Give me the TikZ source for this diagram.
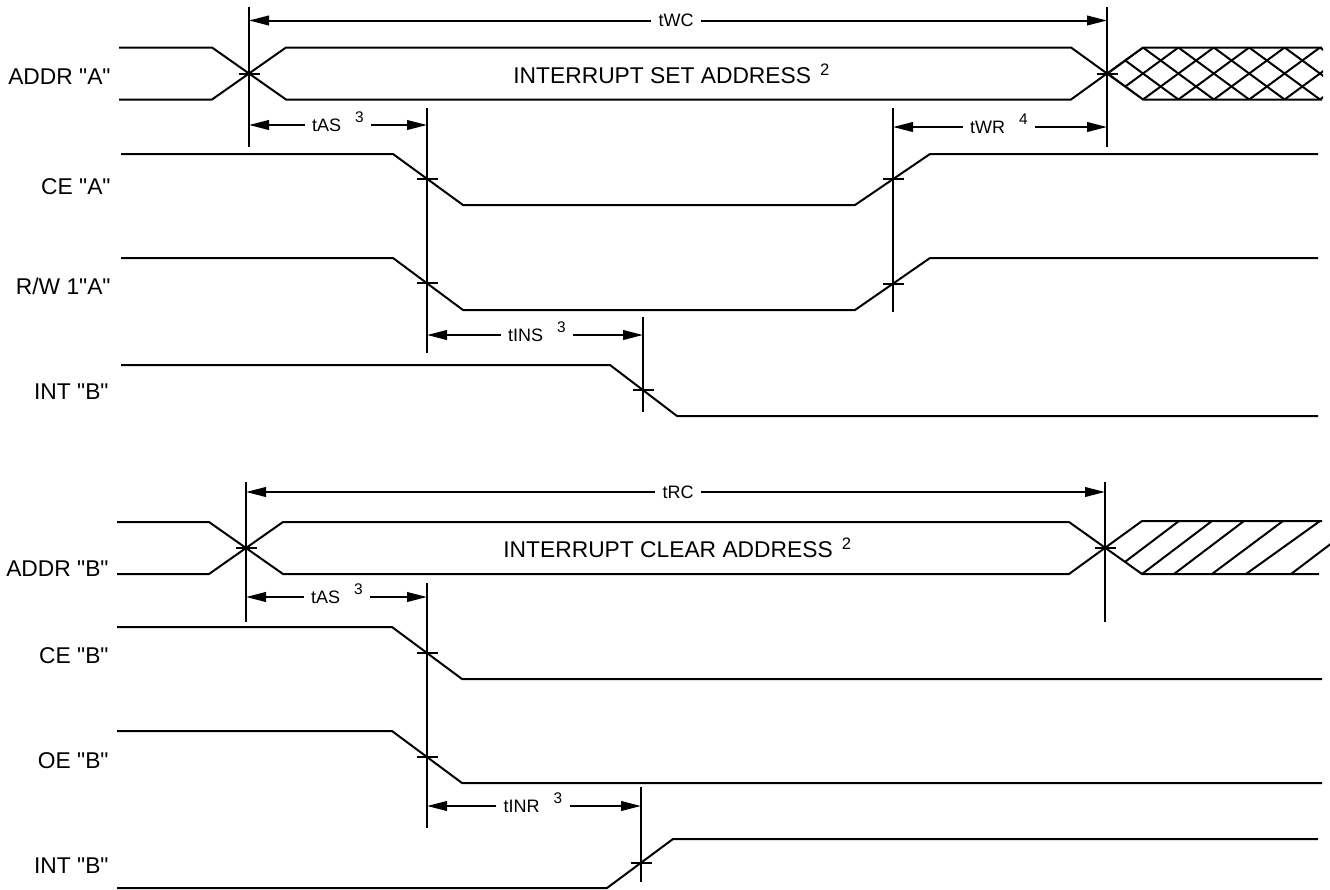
\documentclass[tikz,border=0pt]{standalone}
\usepackage{fontspec}
% a family without the TeX quote mapping, so " stays a straight quote
\newfontfamily\arialfont{Liberation Sans}
\usetikzlibrary{arrows.meta}

% raised footnote digit after a timing parameter
\newcommand\tnote[1]{\hspace{7pt}\raisebox{4.5pt}[0pt][0pt]{\fontsize{7.7}{9}\selectfont #1}}
% raised footnote digit after a bus value
\newcommand\bnote[1]{\hspace{4.5pt}\raisebox{4pt}[0pt][0pt]{\fontsize{8.3}{10}\selectfont #1}}

\begin{document}
\begin{tikzpicture}[x=0.5pt,y=-0.5pt, font=\arialfont,
  sig/.style={line width=1pt, line join=miter},
  guide/.style={line width=1pt},
  tickmark/.style={line width=1pt},
  dim/.style={line width=1pt, -{Triangle[length=10pt,width=4.8pt]}},
  lbl/.style={anchor=east, inner sep=0pt, font=\arialfont\fontsize{11.4}{13}\selectfont},
  buslbl/.style={anchor=west, inner sep=0pt, font=\arialfont\fontsize{11.4}{13}\selectfont},
  tlbl/.style={inner xsep=3.5pt, inner ysep=0pt, font=\arialfont\fontsize{9}{11}\selectfont}]

\useasboundingbox (0,0) rectangle (1330,890);

% ================= interrupt set (port A writes) =================
% signal names
\node[lbl] (addrA) at (111,77)  {ADDR "A"};
\node[lbl] (ceA)   at (111,187) {CE "A"};
\node[lbl] (rwA)   at (111,286) {R/W 1"A"};
\node[lbl] (intB1) at (109,392) {INT "B"};

% reference lines
\coordinate (gA1) at (249,7);
\coordinate (gA2) at (1107,7);
\coordinate (gA3) at (427,108);
\coordinate (gA4) at (893,108);
\coordinate (gA5) at (643,317);
\draw[guide] (gA1) -- ++(0,140);
\draw[guide] (gA2) -- ++(0,140);
\draw[guide] (gA3) -- (427,353);
\draw[guide] (gA4) -- (893,312);
\draw[guide] (gA5) -- (643,412);

% address bus
\draw[sig] (119,47.5) -- (212,47.5) -- (286,99.5) -- (1071,99.5) -- (1143,47.5) -- (1322,47.5);
\draw[sig] (119,99.5) -- (212,99.5) -- (286,47.5) -- (1071,47.5) -- (1143,99.5) -- (1322,99.5);
\node[buslbl] (setaddr) at (513,75.5) {INTERRUPT SET ADDRESS\bnote{2}};
% don't-care region after the address
\begin{scope}
  \clip (1107,73.5) -- (1143,47.5) -- (1323,47.5) -- (1323,99.5) -- (1143,99.5) -- cycle;
  \foreach \k in {-3,...,7} {
    \draw[sig] ({1072.2+35.4*\k},99.5) -- ++(70.8,-52);
    \draw[sig] ({1143+35.4*\k},47.5) -- ++(70.8,52);
  }
\end{scope}

% control strobes
\draw[sig] (121,154) -- (393,154) -- (463,205) -- (855,205) -- (930,154) -- (1318,154);
\draw[sig] (121,258) -- (393,258) -- (463,310) -- (855,310) -- (930,258) -- (1318,258);
\draw[sig] (121,365) -- (610,365) -- (677,416) -- (1318,416);

% crossing marks
\coordinate (xA1) at (249,73.5);
\coordinate (xA2) at (1107,73.5);
\coordinate (xA3) at (427,179);
\coordinate (xA4) at (893,179);
\coordinate (xA5) at (427,283);
\coordinate (xA6) at (893,284);
\coordinate (xA7) at (643,390);
\foreach \p in {xA1,xA2,xA3,xA4,xA5,xA6,xA7}
  \draw[tickmark] (\p) +(-10.5,0) -- +(10.5,0);

% timing parameters
\node[tlbl] (twc) at (676,20.5) {tWC};
\draw[dim] (twc.west) -- (twc.west -| gA1);
\draw[dim] (twc.east) -- (twc.east -| gA2);
\node[tlbl] (tas1) at (338,125) {tAS\tnote{3}};
\draw[dim] (tas1.west) -- (tas1.west -| gA1);
\draw[dim] (tas1.east) -- (tas1.east -| gA3);
\node[tlbl] (twr) at (999,127) {tWR\tnote{4}};
\draw[dim] (twr.west) -- (twr.west -| gA4);
\draw[dim] (twr.east) -- (twr.east -| gA2);
\node[tlbl] (tins) at (537,335) {tINS\tnote{3}};
\draw[dim] (tins.west) -- (tins.west -| gA3);
\draw[dim] (tins.east) -- (tins.east -| gA5);

% ================= interrupt clear (port B reads) =================
\node[lbl] (addrB) at (109,569) {ADDR "B"};
\node[lbl] (ceB)   at (109,656) {CE "B"};
\node[lbl] (oeB)   at (109,761) {OE "B"};
\node[lbl] (intB2) at (109,866) {INT "B"};

\coordinate (gB1) at (246,482);
\coordinate (gB2) at (1105,482);
\coordinate (gB3) at (427,583);
\coordinate (gB4) at (641,787);
\draw[guide] (gB1) -- (246,622);
\draw[guide] (gB2) -- (1105,622);
\draw[guide] (gB3) -- (427,828);
\draw[guide] (gB4) -- (641,882);

\draw[sig] (117,522) -- (209,522) -- (283,574) -- (1069,574) -- (1142,521) -- (1322,521);
\draw[sig] (117,574) -- (209,574) -- (283,522) -- (1069,522) -- (1142,574) -- (1319,574);
\node[buslbl] (clraddr) at (503,550) {INTERRUPT CLEAR ADDRESS\bnote{2}};
% don't-care region after the address
\begin{scope}
  \clip (1105.5,547.5) -- (1142,521) -- (1335,521) -- (1335,574) -- (1142,574) -- cycle;
  \foreach \b/\t in {1109/1179, 1142/1212, 1174/1244, 1212/1283, 1246/1320, 1291/1361}
    \draw[sig] (\b,574) -- (\t,521);
\end{scope}

\draw[sig] (117,627) -- (392,627) -- (462,679) -- (1322,679);
\draw[sig] (117,731) -- (392,731) -- (462,783) -- (1322,783);
\draw[sig] (117,888) -- (607,888) -- (673,839) -- (1318,839);

\coordinate (xB1) at (246,547.5);
\coordinate (xB2) at (1105.5,547.5);
\coordinate (xB3) at (427,653);
\coordinate (xB4) at (427,757);
\coordinate (xB5) at (641,863);
\foreach \p in {xB1,xB2,xB3,xB4,xB5}
  \draw[tickmark] (\p) +(-10.5,0) -- +(10.5,0);

\node[tlbl] (trc) at (678,492) {tRC};
\draw[dim] (trc.west) -- (trc.west -| gB1);
\draw[dim] (trc.east) -- (trc.east -| gB2);
\node[tlbl] (tas2) at (337,597) {tAS\tnote{3}};
\draw[dim] (tas2.west) -- (tas2.west -| gB1);
\draw[dim] (tas2.east) -- (tas2.east -| gB3);
\node[tlbl] (tinr) at (533,806) {tINR\tnote{3}};
\draw[dim] (tinr.west) -- (tinr.west -| gB3);
\draw[dim] (tinr.east) -- (tinr.east -| gB4);

\end{tikzpicture}
\end{document}
